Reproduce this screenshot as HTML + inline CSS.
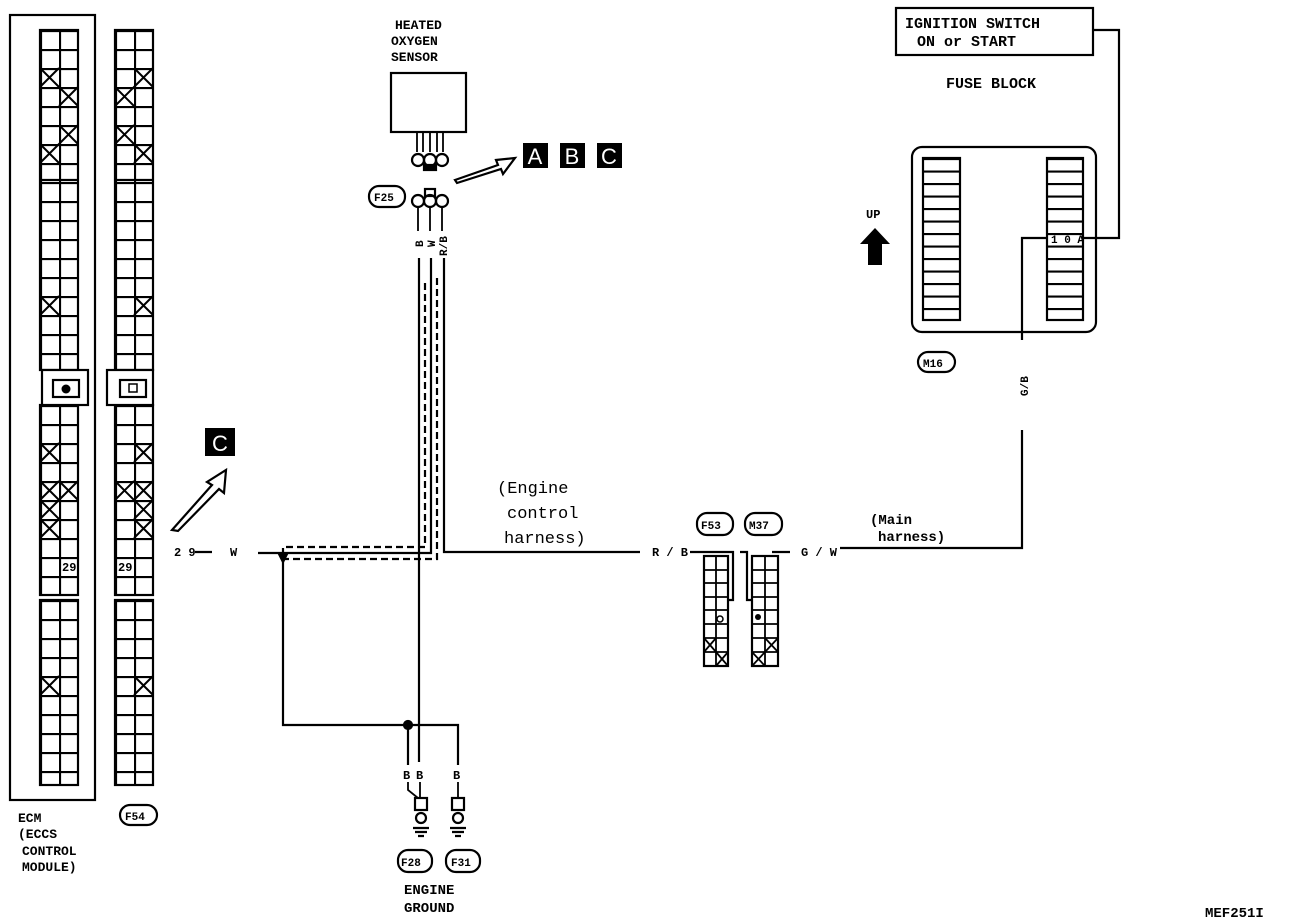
<!DOCTYPE html>
<html><head><style>
html,body{margin:0;padding:0;background:#fff}
svg{display:block}
text{font-family:"Liberation Mono",monospace;fill:#000}
.s{font-family:"Liberation Sans",sans-serif}
</style></head><body>
<svg width="1296" height="924" viewBox="0 0 1296 924" xmlns="http://www.w3.org/2000/svg">
<defs>
<pattern id="g" x="40" y="30" width="19" height="19" patternUnits="userSpaceOnUse"><path d="M0 1H19M1 0V19" stroke="#000" stroke-width="2.2" fill="none"/></pattern>
<pattern id="g2" x="115" y="30" width="19" height="19" patternUnits="userSpaceOnUse"><path d="M0 1H19M1 0V19" stroke="#000" stroke-width="2.2" fill="none"/></pattern>
<pattern id="g3" x="40" y="405" width="19" height="19" patternUnits="userSpaceOnUse"><path d="M0 1H19M1 0V19" stroke="#000" stroke-width="2.2" fill="none"/></pattern>
<pattern id="g4" x="115" y="405" width="19" height="19" patternUnits="userSpaceOnUse"><path d="M0 1H19M1 0V19" stroke="#000" stroke-width="2.2" fill="none"/></pattern>
<pattern id="g5" x="40" y="600" width="19" height="19" patternUnits="userSpaceOnUse"><path d="M0 1H19M1 0V19" stroke="#000" stroke-width="2.2" fill="none"/></pattern>
<pattern id="g6" x="115" y="600" width="19" height="19" patternUnits="userSpaceOnUse"><path d="M0 1H19M1 0V19" stroke="#000" stroke-width="2.2" fill="none"/></pattern>
<pattern id="fz" x="0" y="158" width="40" height="12.5" patternUnits="userSpaceOnUse"><path d="M0 1H40" stroke="#000" stroke-width="2.2" fill="none"/></pattern>
</defs>
<g fill="none" stroke="#000" stroke-width="2.2">
<rect x="10" y="15" width="85" height="785"/>
<rect x="40" y="30" width="38" height="340" fill="url(#g)"/>
<rect x="115" y="30" width="38" height="340" fill="url(#g2)"/>
<rect x="40" y="405" width="38" height="190" fill="url(#g3)"/>
<rect x="115" y="405" width="38" height="190" fill="url(#g4)"/>
<rect x="40" y="600" width="38" height="185" fill="url(#g5)"/>
<rect x="115" y="600" width="38" height="185" fill="url(#g6)"/>
<line x1="40" y1="180" x2="78" y2="180"/><line x1="115" y1="180" x2="153" y2="180"/>
<rect x="42" y="370" width="46" height="35" fill="#fff"/><rect x="53" y="380" width="26" height="17"/>
<rect x="107" y="370" width="46" height="35" fill="#fff"/><rect x="120" y="380" width="26" height="17"/>
<rect x="129" y="384" width="8" height="8" stroke-width="1.5"/>
<path stroke-width="2" d="
M40 68l19 19m0-19l-19 19 M59 87l19 19m0-19l-19 19 M59 125l19 19m0-19l-19 19 M40 144l19 19m0-19l-19 19 M40 296l19 19m0-19l-19 19
M40 443l19 19m0-19l-19 19 M40 481l19 19m0-19l-19 19 M59 481l19 19m0-19l-19 19 M40 500l19 19m0-19l-19 19 M40 519l19 19m0-19l-19 19 M40 676l19 19m0-19l-19 19
M134 68l19 19m0-19l-19 19 M115 87l19 19m0-19l-19 19 M115 125l19 19m0-19l-19 19 M134 144l19 19m0-19l-19 19 M134 296l19 19m0-19l-19 19
M134 443l19 19m0-19l-19 19 M115 481l19 19m0-19l-19 19 M134 481l19 19m0-19l-19 19 M134 500l19 19m0-19l-19 19 M134 519l19 19m0-19l-19 19 M134 676l19 19m0-19l-19 19"/>
<path d="M172 530 L212 485 L207 482 L226 470 L224 493 L219 489 L178 531 Z" stroke-width="2.2"/>
<rect x="391" y="73" width="75" height="59"/>
<path d="M417 132v20M423 132v20M430 132v20M437 132v20M443 132v20" stroke-width="1.8"/>
<circle cx="418" cy="160" r="6"/><circle cx="430" cy="160" r="6"/><circle cx="442" cy="160" r="6"/>
<rect x="424" y="165" width="12" height="5" fill="#000"/>
<circle cx="418" cy="201" r="6"/><circle cx="430" cy="201" r="6"/><circle cx="442" cy="201" r="6"/>
<rect x="425" y="189" width="10" height="7"/>
<rect x="369" y="186" width="36" height="21" rx="10"/>
<path d="M418 207v24M430 207v24M442 207v24" stroke-width="1.8"/>
<path d="M455 180 L498 165 L496 160 L515 158 L503 174 L501 169 L457 183 Z" stroke-width="2.2"/>
<path d="M419 258V762"/>
<path d="M431 258V553H258"/>
<path d="M444 258V552H640M690 552H733V600H728"/>
<path d="M425 283V547H283V553M437 278V559H283" stroke-dasharray="7 4"/>
<path d="M283 553V725H458V765M408 725V765"/>
<path d="M195 552H212"/>
<circle cx="408" cy="725" r="4" fill="#000"/>
<path d="M279 554l4 8 4-8z" fill="#000"/>
<path d="M408 782v8l10 8M420 782v16M458 782v16" stroke-width="1.8"/>
<rect x="415" y="798" width="12" height="12"/><rect x="452" y="798" width="12" height="12"/>
<circle cx="421" cy="818" r="5"/><circle cx="458" cy="818" r="5"/>
<path d="M413 828h16M415 832h12M418 836h6M450 828h16M452 832h12M455 836h6"/>
<rect x="398" y="850" width="34" height="22" rx="10"/><rect x="446" y="850" width="34" height="22" rx="10"/>
<rect x="704" y="556" width="24" height="110"/>
<path d="M716 556V666M704 570H728M704 583H728M704 597H728M704 610H728M704 624H728M704 638H728M704 652H728" stroke-width="1.8"/>
<rect x="752" y="556" width="26" height="110"/>
<path d="M765 556V666M752 570H778M752 583H778M752 597H778M752 610H778M752 624H778M752 638H778M752 652H778" stroke-width="1.8"/>
<path d="M704 638l12 14m0-14l-12 14M716 652l12 14m0-14l-12 14M765 638l13 14m0-14l-13 14M752 652l13 14m0-14l-13 14" stroke-width="1.8"/>
<path d="M740 552H747V600H752M790 552H772"/>
<rect x="697" y="513" width="36" height="22" rx="10"/><rect x="745" y="513" width="37" height="22" rx="10"/>
<path d="M840 548H1022V430M1022 340V238H1047"/>
<rect x="912" y="147" width="184" height="185" rx="10"/>
<rect x="923" y="158" width="37" height="162" fill="url(#fz)"/>
<rect x="1047" y="158" width="36" height="162" fill="url(#fz)"/>
<path d="M1083 238H1119V30H1093"/>
<rect x="896" y="8" width="197" height="47"/>
<rect x="918" y="352" width="37" height="20" rx="10"/>
<rect x="120" y="805" width="37" height="20" rx="10"/>
</g>
<circle cx="66" cy="389" r="4.5" fill="#000"/>
<path d="M860 244L875 228L890 244H882V265H868V244Z" fill="#000"/>
<circle cx="720" cy="619" r="3" fill="none" stroke="#000" stroke-width="1.5"/>
<circle cx="758" cy="617" r="3" fill="#000"/>
<rect x="523" y="143" width="25" height="25" fill="#000"/><rect x="560" y="143" width="25" height="25" fill="#000"/><rect x="597" y="143" width="25" height="25" fill="#000"/>
<rect x="205" y="428" width="30" height="28" fill="#000"/>
<g class="s" font-size="22" text-anchor="middle">
<text x="535" y="164" style="fill:#fff" class="s">A</text>
<text x="572" y="164" style="fill:#fff" class="s">B</text>
<text x="609" y="164" style="fill:#fff" class="s">C</text>
<text x="220" y="451" style="fill:#fff" class="s">C</text>
</g>
<g font-size="13" class="s" font-weight="bold">
<text x="395" y="29">HEATED</text><text x="391" y="45">OXYGEN</text><text x="391" y="61">SENSOR</text>
<text x="18" y="822">ECM</text><text x="18" y="838">(ECCS</text><text x="22" y="855">CONTROL</text><text x="22" y="871">MODULE)</text>
<text x="1205" y="917" font-size="14">MEF251I</text>
</g>
<g font-size="11" font-weight="bold">
<text x="374" y="201">F25</text><text x="125" y="820">F54</text><text x="923" y="367">M16</text>
<text x="401" y="866">F28</text><text x="451" y="866">F31</text><text x="701" y="529">F53</text><text x="749" y="529">M37</text>
<text x="62" y="571" font-size="12">29</text><text x="118" y="571" font-size="12">29</text>
</g>
<g font-size="12" font-weight="bold">
<text x="174" y="556">2 9</text><text x="230" y="556">W</text>
<text x="652" y="556">R / B</text><text x="801" y="556">G / W</text>
<text x="404" y="894" font-size="14">ENGINE</text><text x="404" y="912" font-size="14">GROUND</text>
<text x="403" y="779">B</text><text x="416" y="779">B</text><text x="453" y="779">B</text>
<text x="866" y="218">UP</text>
<text x="1051" y="243" font-size="11">1 0 A</text>
</g>
<g font-size="11" font-weight="bold">
<text transform="translate(423,247) rotate(-90)">B</text>
<text transform="translate(435,247) rotate(-90)">W</text>
<text transform="translate(447,256) rotate(-90)">R/B</text>
<text transform="translate(1028,396) rotate(-90)">G/B</text>
</g>
<g font-size="17" class="s">
<text x="497" y="493">(Engine</text><text x="507" y="518">control</text><text x="504" y="543">harness)</text>
</g>
<g font-size="14" font-weight="bold">
<text x="870" y="524">(Main</text><text x="878" y="541">harness)</text>
<text x="905" y="28" font-size="15">IGNITION SWITCH</text><text x="917" y="46" font-size="15">ON or START</text>
<text x="946" y="88" font-size="15">FUSE BLOCK</text>
</g>
</svg>
</body></html>
